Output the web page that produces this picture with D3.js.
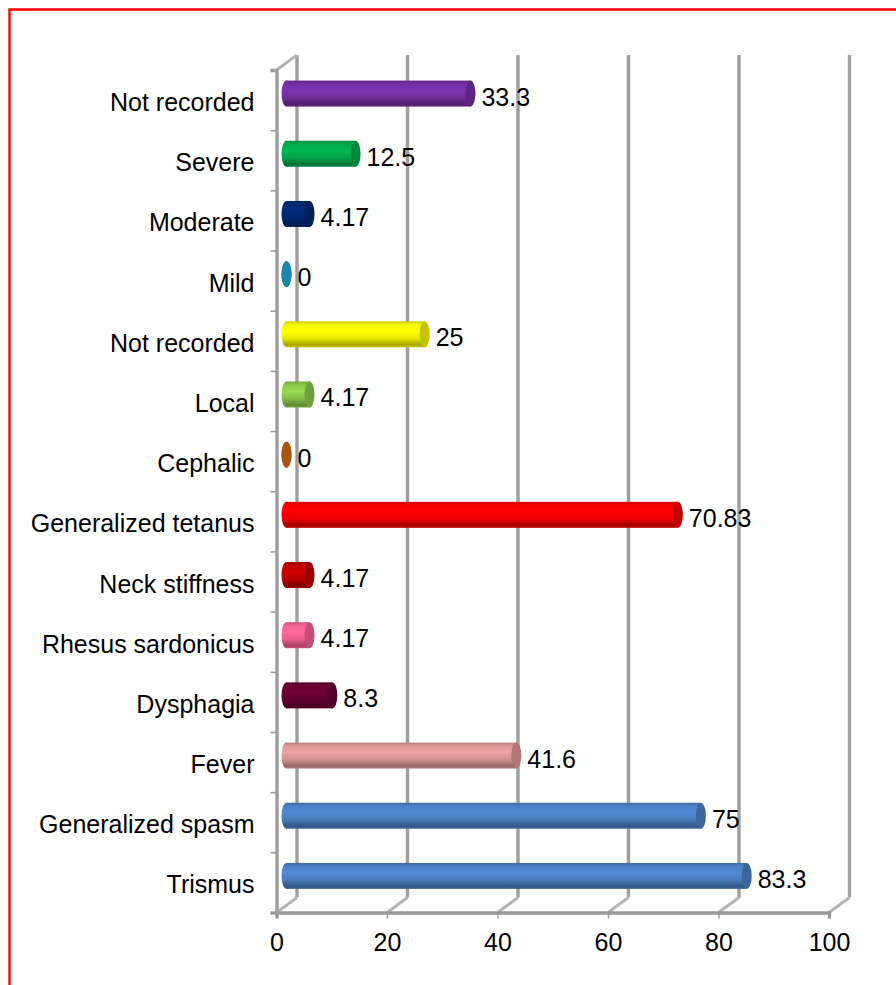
<!DOCTYPE html>
<html>
<head>
<meta charset="utf-8">
<script src="https://cdn.jsdelivr.net/npm/d3@7"></script>
<style>
  html, body { margin: 0; padding: 0; background: #fff; }
  svg { display: block; }
  text { font-family: "Liberation Sans", Arial, sans-serif; fill: #000; }
</style>
</head>
<body>
<div id="chart"></div>
<script>
// listed bottom to top, same as the bars on the picture
var labels = ["Trismus","Generalized spasm","Fever","Dysphagia","Rhesus sardonicus","Neck stiffness","Generalized tetanus","Cephalic","Local","Not recorded","Mild","Moderate","Severe","Not recorded"];
var values = [83.3,75,41.6,8.3,4.17,4.17,70.83,0,4.17,25,0,4.17,12.5,33.3];
var valueText = ["83.3","75","41.6","8.3","4.17","4.17","70.83","0","4.17","25","0","4.17","12.5","33.3"];
var colors = ["#4f86cc","#4f86cc","#e69c9c","#6b0033","#ff6699","#c80000","#ff0000","#a8560f","#92d050","#ffff00","#1b86b0","#002a78","#00b050","#7a30aa"];
var xTicks = [0,20,40,60,80,100];

var width = 896, height = 985;
var depthX = 20.5, depthY = 15;   // shift of the back wall
var gridColor = "#9e9e9e";
var fontSize = "25px";

var svg = d3.select("#chart").append("svg")
  .attr("width", width)
  .attr("height", height);

var x = d3.scaleLinear().domain([0,100]).range([276.5,829]);
var y = d3.scaleLinear().domain([0,labels.length]).range([912.5,70]);

// outer red frame, only top and left are visible
svg.append("path")
  .attr("d", "M9.5," + height + "V9.5H" + width)
  .attr("fill", "none")
  .attr("stroke", "#ff0000")
  .attr("stroke-width", 2.4);

// gradients for the cylinders
var defs = svg.append("defs");
colors.forEach(function(c, i) {
  var base = d3.color(c);
  var grad = defs.append("linearGradient")
    .attr("id", "bar" + i)
    .attr("x1", 0).attr("x2", 0).attr("y1", 0).attr("y2", 1);
  grad.append("stop").attr("offset", "0%").attr("stop-color", base.darker(0.6));
  grad.append("stop").attr("offset", "14%").attr("stop-color", base.darker(0.1));
  grad.append("stop").attr("offset", "38%").attr("stop-color", base.brighter(0.12));
  grad.append("stop").attr("offset", "66%").attr("stop-color", base.darker(0.25));
  grad.append("stop").attr("offset", "90%").attr("stop-color", base.darker(1.2));
  grad.append("stop").attr("offset", "100%").attr("stop-color", base.darker(0.7));
});

// back wall gridlines and the floor diagonals
var walls = svg.append("g");
walls.selectAll("line.grid")
  .data(xTicks)
  .enter().append("line")
  .attr("class", "grid")
  .attr("x1", function(d) { return x(d) + depthX; })
  .attr("x2", function(d) { return x(d) + depthX; })
  .attr("y1", y(labels.length) - depthY)
  .attr("y2", y(0) - depthY)
  .attr("stroke", gridColor)
  .attr("stroke-width", 3.4);

walls.selectAll("line.floor")
  .data(xTicks)
  .enter().append("line")
  .attr("class", "floor")
  .attr("x1", function(d) { return x(d); })
  .attr("x2", function(d) { return x(d) + depthX; })
  .attr("y1", y(0))
  .attr("y2", y(0) - depthY)
  .attr("stroke", "#b5b5b5")
  .attr("stroke-width", 3);

// top corner of the side wall
walls.append("line")
  .attr("x1", x(0)).attr("x2", x(0) + depthX)
  .attr("y1", y(labels.length)).attr("y2", y(labels.length) - depthY)
  .attr("stroke", "#b5b5b5")
  .attr("stroke-width", 3);

// axes
var xAxis = d3.axisBottom(x)
  .tickValues(xTicks)
  .tickSize(6)
  .tickPadding(15);

var gx = svg.append("g")
  .attr("transform", "translate(0," + y(0) + ")")
  .call(xAxis);
gx.select(".domain").attr("stroke", "#999").attr("stroke-width", 3.4);
gx.selectAll(".tick line").attr("stroke", "#999").attr("stroke-width", 1.5);
gx.selectAll(".tick text").style("font-size", fontSize).attr("font-family", null);

var yTickAxis = d3.axisLeft(y)
  .tickValues(d3.range(labels.length + 1))
  .tickSize(6)
  .tickFormat("");

var gyTicks = svg.append("g")
  .attr("transform", "translate(" + x(0) + ",0)")
  .call(yTickAxis);
gyTicks.select(".domain").attr("stroke", gridColor).attr("stroke-width", 3.4);
gyTicks.selectAll(".tick line").attr("stroke", "#999").attr("stroke-width", 1.5);

var yLabelAxis = d3.axisLeft(y)
  .tickValues(d3.range(labels.length).map(function(i) { return i + 0.5; }))
  .tickSize(0)
  .tickPadding(22)
  .tickFormat(function(d) { return labels[Math.floor(d)]; });

var gyLabels = svg.append("g")
  .attr("transform", "translate(" + x(0) + ",2.5)")
  .call(yLabelAxis);
gyLabels.select(".domain").remove();
gyLabels.selectAll(".tick text").style("font-size", fontSize).attr("font-family", null);

// bars: gradient body with a darker elliptic cap
var capRx = 5, barRy = 13, barLift = 6.5, barShift = 10;
var bars = svg.selectAll("g.bar")
  .data(values)
  .enter().append("g")
  .attr("class", "bar");

function barY(i) { return y(i + 0.5) - barLift; }

bars.append("rect")
  .attr("x", x(0) + barShift)
  .attr("y", function(d, i) { return barY(i) - barRy; })
  .attr("width", function(d) { return x(d) - x(0); })
  .attr("height", barRy * 2)
  .attr("fill", function(d, i) { return "url(#bar" + i + ")"; });

// rounded near end
bars.append("ellipse")
  .attr("cx", x(0) + barShift)
  .attr("cy", function(d, i) { return barY(i); })
  .attr("rx", capRx)
  .attr("ry", barRy)
  .attr("fill", function(d, i) { return "url(#bar" + i + ")"; });

// zero bars are only a flat disc, in the plain colour
bars.append("ellipse")
  .attr("cx", function(d) { return x(d) + barShift; })
  .attr("cy", function(d, i) { return barY(i); })
  .attr("rx", capRx)
  .attr("ry", barRy)
  .attr("fill", function(d, i) { return d === 0 ? colors[i] : d3.color(colors[i]).darker(0.75); });

// value labels
svg.selectAll("text.value")
  .data(values)
  .enter().append("text")
  .attr("class", "value")
  .attr("x", function(d) { return x(d) + barShift + capRx + 6; })
  .attr("y", function(d, i) { return barY(i) + 12; })
  .style("font-size", fontSize)
  .text(function(d, i) { return valueText[i]; });
</script>
</body>
</html>
